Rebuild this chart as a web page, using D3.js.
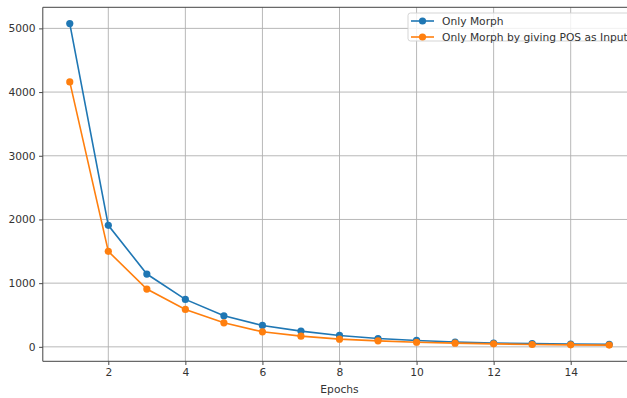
<!DOCTYPE html>
<html>
<head>
<meta charset="utf-8">
<script src="https://cdn.jsdelivr.net/npm/d3@7"></script>
<style>
  body { margin: 0; background: #fff; }
  svg { display: block; font-family: "DejaVu Sans", sans-serif; }
</style>
</head>
<body>
<svg id="chart" width="627" height="398"></svg>
<script>
"use strict";
// data
var epochs = [1, 2, 3, 4, 5, 6, 7, 8, 9, 10, 11, 12, 13, 14, 15];
var onlyMorph = [5075, 1908, 1143, 745, 487, 336, 247, 179, 131, 100, 75, 60, 50, 44, 40];
var morphWithPos = [4160, 1499, 907, 588, 377, 236, 168, 121, 94, 72, 58, 47, 37, 31, 27];
var seriesNames = ["Only Morph", "Only Morph by giving POS as Input"];
var seriesColors = ["#1f77b4", "#ff7f0e"];
var xTicks = [2, 4, 6, 8, 10, 12, 14];
var yTicks = [0, 1000, 2000, 3000, 4000, 5000];

var plotL = 42.8, plotR = 636.2, plotT = 7.3, plotB = 361.3;

var svg = d3.select("#chart");

var x = d3.scaleLinear().domain([0.3, 15.7]).range([plotL, plotR]);
var y = d3.scaleLinear().domain([-227, 5331]).range([plotB, plotT]);

// grid
var grid = svg.append("g").attr("stroke", "#b0b0b0").attr("stroke-width", 0.9);
grid.selectAll(".gx").data(xTicks).enter().append("line")
  .attr("x1", function(d) { return x(d); }).attr("x2", function(d) { return x(d); })
  .attr("y1", plotT).attr("y2", plotB);
grid.selectAll(".gy").data(yTicks).enter().append("line")
  .attr("x1", plotL).attr("x2", plotR)
  .attr("y1", function(d) { return y(d); }).attr("y2", function(d) { return y(d); });

// axes
var xAxis = svg.append("g")
  .attr("transform", "translate(0," + plotB + ")")
  .call(d3.axisBottom(x).tickValues(xTicks).tickSize(3.7).tickPadding(3.5).tickFormat(d3.format("d")));
var yAxis = svg.append("g")
  .attr("transform", "translate(" + plotL + ",0)")
  .call(d3.axisLeft(y).tickValues(yTicks).tickSize(3.7).tickPadding(3.5).tickFormat(d3.format("d")));

[xAxis, yAxis].forEach(function(a) {
  a.select(".domain").remove();
  a.selectAll(".tick line").attr("stroke", "#333").attr("stroke-width", 0.9);
  a.selectAll("text").attr("fill", "#333").attr("font-size", 10.7)
    .attr("font-family", "DejaVu Sans, sans-serif");
});

// spines
svg.append("line").attr("x1", plotL).attr("x2", plotR).attr("y1", plotB).attr("y2", plotB)
  .attr("stroke", "#444").attr("stroke-width", 1);
svg.append("line").attr("x1", plotL).attr("x2", plotR).attr("y1", plotT).attr("y2", plotT)
  .attr("stroke", "#444").attr("stroke-width", 1);
svg.append("line").attr("x1", plotL).attr("x2", plotL).attr("y1", plotT).attr("y2", plotB)
  .attr("stroke", "#444").attr("stroke-width", 1);

svg.append("text")
  .attr("x", (plotL + plotR) / 2)
  .attr("y", 393)
  .attr("text-anchor", "middle")
  .attr("font-size", 10.7)
  .attr("fill", "#333")
  .text("Epochs");

// lines and markers
var allSeries = [onlyMorph, morphWithPos];
var line = d3.line()
  .x(function(d, i) { return x(epochs[i]); })
  .y(function(d) { return y(d); });

allSeries.forEach(function(vals, k) {
  svg.append("path")
    .attr("d", line(vals))
    .attr("fill", "none")
    .attr("stroke", seriesColors[k])
    .attr("stroke-width", 1.6);
  svg.selectAll(".m" + k).data(vals).enter().append("circle")
    .attr("cx", function(d, i) { return x(epochs[i]); })
    .attr("cy", function(d) { return y(d); })
    .attr("r", 3.6)
    .attr("fill", seriesColors[k]);
});

// legend
var legend = svg.append("g");
legend.append("rect")
  .attr("x", 408).attr("y", 13).attr("width", 240).attr("height", 28)
  .attr("rx", 2.5)
  .attr("fill", "white").attr("fill-opacity", 0.8)
  .attr("stroke", "#d0d0d0").attr("stroke-width", 0.9);
seriesNames.forEach(function(name, k) {
  var ly = 21 + k * 16;
  legend.append("line")
    .attr("x1", 411).attr("x2", 434).attr("y1", ly).attr("y2", ly)
    .attr("stroke", seriesColors[k]).attr("stroke-width", 1.6);
  legend.append("circle")
    .attr("cx", 422.5).attr("cy", ly).attr("r", 3.6)
    .attr("fill", seriesColors[k]);
  legend.append("text")
    .attr("x", 442).attr("y", ly)
    .attr("dy", "0.35em")
    .attr("font-size", 10.7)
    .attr("fill", "#333")
    .text(name);
});
</script>
</body>
</html>
